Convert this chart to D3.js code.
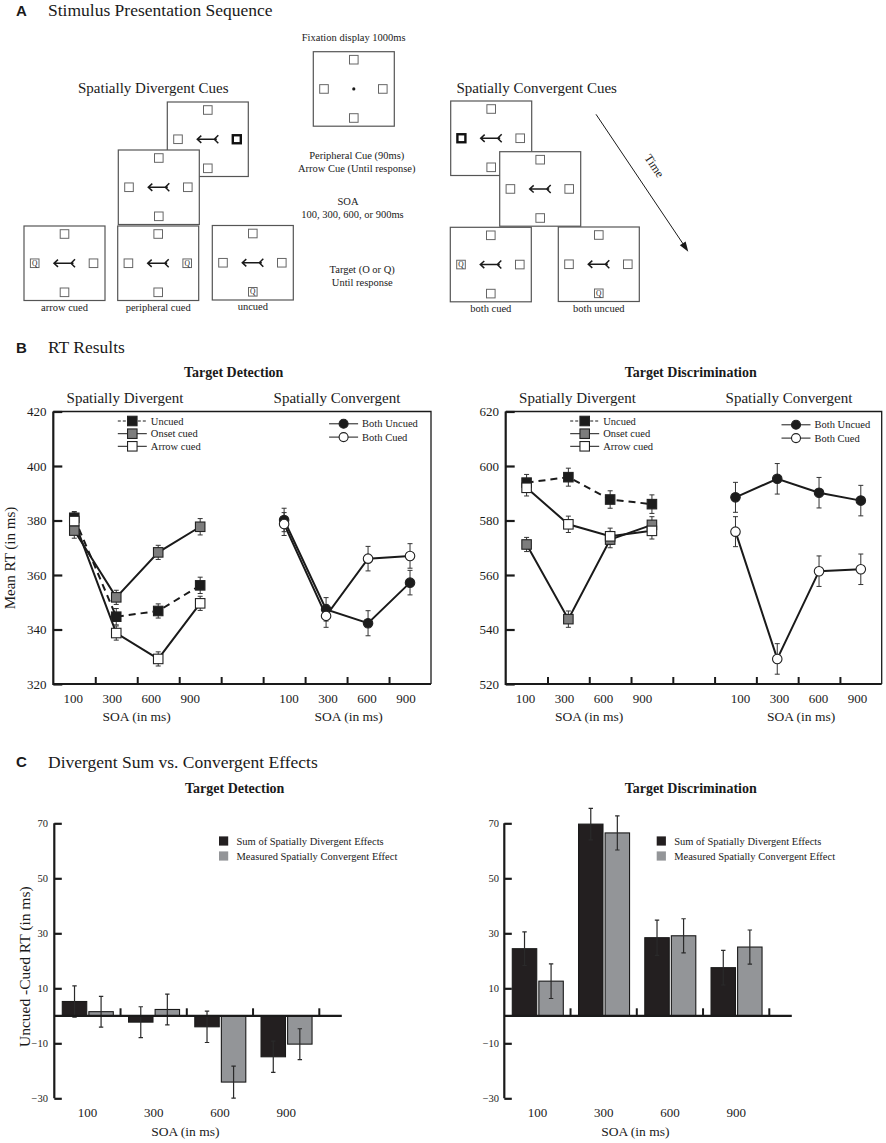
<!DOCTYPE html>
<html>
<head>
<meta charset="utf-8">
<script src="https://cdn.jsdelivr.net/npm/d3@7"></script>
<style>
  body { margin: 0; background: #fff; }
  text { font-family: 'Liberation Serif', 'Times New Roman', serif; fill: #1a1a1a; }
  .letter { font-family: 'Liberation Sans', Arial, sans-serif; font-weight: bold; }
</style>
</head>
<body>
<svg id="fig" width="886" height="1143"></svg>
<script>
// ---- data ----
var soaLabels = ["100", "300", "600", "900"];

// B, target detection: mean RT (ms) and error
var detUncued = [381.0, 344.7, 346.8, 356.2], detUncuedErr = [2.3, 3.0, 2.6, 3.0];
var detOnset = [376.3, 351.8, 368.3, 377.7], detOnsetErr = [2.8, 2.6, 2.6, 3.0];
var detArrow = [379.8, 338.7, 329.2, 349.6], detArrowErr = [3.0, 2.6, 2.6, 2.6];
var detBothUncued = [380.2, 347.4, 342.3, 357.2], detBothUncuedErr = [4.3, 4.3, 4.6, 4.5];
var detBothCued = [378.7, 345.0, 366.0, 367.0], detBothCuedErr = [4.2, 4.2, 4.5, 4.5];

// B, target discrimination
var disUncued = [593.9, 595.9, 587.7, 586.0], disUncuedErr = [3.0, 3.3, 3.2, 3.4];
var disOnset = [571.2, 543.8, 573.0, 578.4], disOnsetErr = [2.6, 3.0, 3.0, 3.0];
var disArrow = [592.0, 578.6, 574.2, 576.2], disArrowErr = [3.0, 3.0, 3.0, 3.0];
var disBothUncued = [588.5, 595.3, 590.2, 587.3], disBothUncuedErr = [5.5, 5.6, 5.6, 5.6];
var disBothCued = [575.9, 529.2, 561.4, 562.1], disBothCuedErr = [5.5, 5.6, 5.6, 5.6];

// C, uncued - cued RT (ms)
var detSum = [5.2, -2.3, -4.0, -14.9], detSumErr = [5.7, 5.6, 5.7, 5.7];
var detConv = [1.5, 2.3, -24.1, -10.3], detConvErr = [5.6, 5.6, 5.8, 5.6];
var disSum = [24.4, 69.7, 28.4, 17.5], disSumErr = [6.1, 5.7, 6.4, 6.3];
var disConv = [12.6, 66.5, 29.1, 25.0], disConvErr = [6.3, 6.2, 6.2, 6.2];

var rtTicks = [0, 20, 40, 60, 80, 100];
var effectTicks = [-30, -10, 10, 30, 50, 70];

var INK = "#1a1a1a";
var svg = d3.select("#fig");
svg.append("rect").attr("width", 886).attr("height", 1143).attr("fill", "#fff");

function label(g, x, y, txt, size, anchor, weight) {
    return g.append("text")
        .attr("x", x).attr("y", y)
        .attr("font-size", size)
        .attr("text-anchor", anchor || "start")
        .attr("font-weight", weight || "normal")
        .text(txt);
}

function panelHeading(letter, txt, y) {
    svg.append("text").attr("class", "letter")
        .attr("x", 16).attr("y", y).attr("font-size", 15).text(letter);
    label(svg, 48, y + 0.5, txt, 17.5);
}

// ---------------- A: stimulus sequence ----------------
var frameW = 81, frameH = 74.5;
var displays = [
    { x: 313.3, y: 51.7, center: "dot" },
    { x: 167.3, y: 102, center: "arrow", thick: "right" },
    { x: 118.3, y: 150, center: "arrow" },
    { x: 24, y: 226, center: "arrow", target: "left", name: "arrow cued" },
    { x: 117.7, y: 226, center: "arrow", target: "right", name: "peripheral cued" },
    { x: 212.3, y: 225.5, center: "arrow", target: "bottom", name: "uncued" },
    { x: 450.7, y: 101, center: "arrow", thick: "left" },
    { x: 499.7, y: 151.7, center: "arrow" },
    { x: 450.3, y: 227.3, center: "arrow", target: "left", name: "both cued" },
    { x: 558.3, y: 227, center: "arrow", target: "bottom", name: "both uncued" }
];
var placeholders = {
    top: [frameW / 2, 8], left: [10.7, frameH / 2],
    right: [frameW - 11.5, frameH / 2], bottom: [frameW / 2, frameH - 8.2]
};

function drawDisplay(d) {
    var g = svg.append("g").attr("transform", "translate(" + d.x + "," + d.y + ")");
    g.append("rect").attr("width", frameW).attr("height", frameH)
        .attr("fill", "#fff").attr("stroke", "#555").attr("stroke-width", 1.2);
    Object.keys(placeholders).forEach(function (k) {
        var p = placeholders[k], thick = d.thick === k;
        var s = thick ? 8 : 8.6;
        g.append("rect")
            .attr("x", p[0] - s / 2).attr("y", p[1] - s / 2)
            .attr("width", s).attr("height", s)
            .attr("fill", "#fff")
            .attr("stroke", thick ? "#111" : "#666")
            .attr("stroke-width", thick ? 2.4 : 1);
        if (d.target === k) {
            g.append("text").attr("x", p[0]).attr("y", p[1] + 2.6)
                .attr("font-size", 7.5).attr("text-anchor", "middle").text("Q");
        }
    });
    var cx = frameW / 2, cy = frameH / 2;
    if (d.center === "dot") {
        g.append("circle").attr("cx", cx).attr("cy", cy).attr("r", 1.6).attr("fill", INK);
    } else {
        var path = "M" + (cx - 10.5) + "," + cy + "H" + (cx + 9) +
            "M" + (cx - 6.5) + "," + (cy - 3.6) + "L" + (cx - 10.5) + "," + cy + "L" + (cx - 6.5) + "," + (cy + 3.6) +
            "M" + (cx + 10.5) + "," + (cy - 4) + "L" + (cx + 6.5) + "," + cy + "L" + (cx + 10.5) + "," + (cy + 4);
        g.append("path").attr("d", path).attr("fill", "none")
            .attr("stroke", INK).attr("stroke-width", 1.5);
    }
    if (d.name) {
        label(svg, d.x + frameW / 2, d.y + frameH + 10, d.name, 10.5, "middle");
    }
}

svg.append("text").attr("class", "letter").attr("x", 16).attr("y", 15.5).attr("font-size", 15).text("A");
label(svg, 48, 16, "Stimulus Presentation Sequence", 17.5);
label(svg, 353.7, 41, "Fixation display 1000ms", 10.5, "middle");
label(svg, 153.3, 92.5, "Spatially Divergent Cues", 15, "middle");
label(svg, 536.7, 92.5, "Spatially Convergent Cues", 15, "middle");
label(svg, 356.7, 158.7, "Peripheral Cue (90ms)", 10.5, "middle");
label(svg, 356.7, 172, "Arrow Cue (Until response)", 10.5, "middle");
label(svg, 348, 205, "SOA", 10.5, "middle");
label(svg, 352.5, 218, "100, 300, 600, or 900ms", 10.5, "middle");
label(svg, 362.2, 273, "Target (O or Q)", 10.5, "middle");
label(svg, 362.3, 286.4, "Until response", 10.5, "middle");
displays.forEach(drawDisplay);

// time arrow
var t0 = [596, 114.3], t1 = [688.3, 251.7];
svg.append("line").attr("x1", t0[0]).attr("y1", t0[1]).attr("x2", t1[0] - 3).attr("y2", t1[1] - 4.5)
    .attr("stroke", INK).attr("stroke-width", 1);
var ang = Math.atan2(t1[1] - t0[1], t1[0] - t0[0]) * 180 / Math.PI;
svg.append("path").attr("d", "M0,0L-10,-3.5L-10,3.5Z").attr("fill", INK)
    .attr("transform", "translate(" + t1[0] + "," + t1[1] + ") rotate(" + ang + ")");
svg.append("text").attr("font-size", 12).attr("text-anchor", "middle")
    .attr("transform", "translate(651,168) rotate(" + ang + ")").text("Time");

// ---------------- B: RT results ----------------
panelHeading("B", "RT Results", 352.5);

function drawMarker(g, shape, fill, x, y, size) {
    if (shape === "square") {
        g.append("rect").attr("x", x - size / 2).attr("y", y - size / 2)
            .attr("width", size).attr("height", size)
            .attr("fill", fill).attr("stroke", "#222").attr("stroke-width", 1.1);
    } else {
        g.append("circle").attr("cx", x).attr("cy", y).attr("r", size / 2)
            .attr("fill", fill).attr("stroke", "#222").attr("stroke-width", 1.1);
    }
}

function rtPanel(o) {
    var g = svg.append("g");
    var x = d3.scaleLinear().domain([0, 9]).range([o.x0, o.x1]);
    var y = d3.scaleLinear().domain([o.yMin, o.yMin + 100]).range([684, 411.5]);
    var yTop = y.range()[1], yBot = y.range()[0];

    // frame
    g.append("path").attr("d", "M" + o.x0 + "," + yTop + "H" + o.x1 + "V" + yBot)
        .attr("fill", "none").attr("stroke", INK).attr("stroke-width", 1.3);
    g.append("path").attr("d", "M" + o.x0 + "," + yTop + "V" + yBot + "H" + o.x1)
        .attr("fill", "none").attr("stroke", INK).attr("stroke-width", 2.2);

    // y axis, ticks inward
    var ya = d3.axisLeft(y).tickValues(rtTicks.map(function (t) { return o.yMin + t; }))
        .tickSize(-9).tickPadding(6.8).tickFormat(d3.format("d"));
    var yg = g.append("g").attr("transform", "translate(" + o.x0 + ",0)").call(ya);
    yg.select(".domain").remove();
    yg.selectAll("line").attr("stroke", INK).attr("stroke-width", 2.2);
    yg.selectAll("text").attr("font-size", 13).attr("font-family", "'Liberation Serif', serif").attr("fill", INK);

    // x ticks pointing up
    var xa = d3.axisBottom(x).tickValues(d3.range(1, 9)).tickSize(-7).tickFormat("");
    var xg = g.append("g").attr("transform", "translate(0," + yBot + ")").call(xa);
    xg.select(".domain").remove();
    xg.selectAll("line").attr("stroke", INK).attr("stroke-width", 2);

    // SOA labels under each group
    [0, 5].forEach(function (off, gi) {
        var shift = gi === 0 ? -1 : 5;
        soaLabels.forEach(function (s, i) {
            label(g, x(off + 0.5) + i * 39 + shift, 702.5, s, 13, "middle");
        });
        label(g, o.x0 + (gi === 0 ? 83.4 : 295.4), 720.8, "SOA (in ms)", 13.5, "middle");
    });

    label(g, (o.x0 + o.x1) / 2 - 28 + o.titleShift, 376.5, o.title, 14, "middle", "bold");
    label(g, o.x0 + o.divShift, 403, "Spatially Divergent", 15, "middle");
    label(g, o.x0 + o.convShift, 403, "Spatially Convergent", 15, "middle");

    var line = d3.line().x(function (d) { return d.x; }).y(function (d) { return d.y; });
    var series = o.series.map(function (s) {
        s.pts = s.vals.map(function (v, i) {
            return { x: x(i + s.offset + 0.5), y: y(v), hi: y(v + s.errs[i]), lo: y(v - s.errs[i]) };
        });
        return s;
    });
    series.forEach(function (s) {
        g.append("path").datum(s.pts).attr("d", line).attr("fill", "none")
            .attr("stroke", INK).attr("stroke-width", 2)
            .attr("stroke-dasharray", s.dash ? "7,5" : null);
    });
    series.forEach(function (s) {
        s.pts.forEach(function (p) {
            g.append("path")
                .attr("d", "M" + (p.x - 2.5) + "," + p.hi + "H" + (p.x + 2.5) + "M" + p.x + "," + p.hi +
                    "V" + p.lo + "M" + (p.x - 2.5) + "," + p.lo + "H" + (p.x + 2.5))
                .attr("stroke", "#333").attr("stroke-width", 1).attr("fill", "none");
        });
    });
    series.forEach(function (s) {
        s.pts.forEach(function (p) { drawMarker(g, s.shape, s.fill, p.x, p.y, 9.5); });
    });

    // legends
    function legend(items, lx, rowY) {
        items.forEach(function (s, i) {
            var ly = yTop + rowY[i];
            g.append("line").attr("x1", lx).attr("x2", lx + 29).attr("y1", ly).attr("y2", ly)
                .attr("stroke", INK).attr("stroke-width", 1)
                .attr("stroke-dasharray", s.dash ? "3,2" : null);
            drawMarker(g, s.shape, s.fill, lx + 14.5, ly, s.shape === "square" ? 9.5 : 9);
            label(g, lx + 33, ly + 3.6, s.name, 10.5);
        });
    }
    legend(series.filter(function (s) { return s.offset === 0; }), o.x0 + 64.5, [9.5, 22.2, 34.8]);
    legend(series.filter(function (s) { return s.offset === 5; }), o.x0 + 275.8, [12.3 + o.convLegendDy, 25.6 + o.convLegendDy]);
    return y;
}

function rtSeries(unc, uncE, ons, onsE, arr, arrE, bu, buE, bc, bcE) {
    return [
        { name: "Uncued", vals: unc, errs: uncE, shape: "square", fill: "#1c1c1c", dash: true, offset: 0 },
        { name: "Onset cued", vals: ons, errs: onsE, shape: "square", fill: "#7d7d7d", offset: 0 },
        { name: "Arrow cued", vals: arr, errs: arrE, shape: "square", fill: "#fff", offset: 0 },
        { name: "Both Uncued", vals: bu, errs: buE, shape: "circle", fill: "#1c1c1c", offset: 5 },
        { name: "Both Cued", vals: bc, errs: bcE, shape: "circle", fill: "#fff", offset: 5 }
    ];
}

rtPanel({
    x0: 53.3, x1: 431, yMin: 320, title: "Target Detection", titleShift: 19.5,
    divShift: 71.7, convShift: 283.7, convLegendDy: 0,
    series: rtSeries(detUncued, detUncuedErr, detOnset, detOnsetErr, detArrow, detArrowErr,
        detBothUncued, detBothUncuedErr, detBothCued, detBothCuedErr)
});
rtPanel({
    x0: 505.7, x1: 881.7, yMin: 520, title: "Target Discrimination", titleShift: 25,
    divShift: 71.8, convShift: 283.3, convLegendDy: 1,
    series: rtSeries(disUncued, disUncuedErr, disOnset, disOnsetErr, disArrow, disArrowErr,
        disBothUncued, disBothUncuedErr, disBothCued, disBothCuedErr)
});
svg.append("text").attr("font-size", 15).attr("text-anchor", "middle")
    .attr("transform", "translate(14.5,558) rotate(-90)").text("Mean RT (in ms)");

// ---------------- C: divergent sum vs convergent ----------------
panelHeading("C", "Divergent Sum vs. Convergent Effects", 767);

function effectPanel(o) {
    var g = svg.append("g");
    var y = d3.scaleLinear().domain([-30, 70]).range([1098.3, 823.3]);
    var x = d3.scaleBand().domain(soaLabels).range([o.x0, o.x0 + 265]).paddingInner(0).paddingOuter(0);
    var sub = d3.scaleBand().domain(["sum", "conv"]).range([8, 59]).paddingInner(0.08);
    var y0 = y(0);

    label(g, o.titleX, 793.3, o.title, 14, "middle", "bold");

    // y axis
    g.append("line").attr("x1", o.x0).attr("x2", o.x0).attr("y1", y(-30)).attr("y2", y(70))
        .attr("stroke", INK).attr("stroke-width", 2.2);
    var ya = d3.axisLeft(y).tickValues(effectTicks).tickSize(-7.5).tickPadding(o.tickPad).tickFormat(d3.format("d"));
    var yg = g.append("g").attr("transform", "translate(" + o.x0 + ",0)").call(ya);
    yg.select(".domain").remove();
    yg.selectAll("line").attr("stroke", INK).attr("stroke-width", 2.2);
    yg.selectAll("text").attr("font-size", 10.5).attr("font-family", "'Liberation Serif', serif").attr("fill", INK);

    // bars
    var groups = [
        { key: "sum", vals: o.sum, errs: o.sumErr, fill: "#231f20" },
        { key: "conv", vals: o.conv, errs: o.convErr, fill: "#939598" }
    ];
    groups.forEach(function (s) {
        g.selectAll(null).data(soaLabels).enter().append("rect")
            .attr("x", function (d) { return x(d) + sub(s.key); })
            .attr("width", sub.bandwidth())
            .attr("y", function (d, i) { return Math.min(y(s.vals[i]), y0); })
            .attr("height", function (d, i) { return Math.abs(y(s.vals[i]) - y0); })
            .attr("fill", s.fill).attr("stroke", "#1a1a1a").attr("stroke-width", 1.1);
    });
    groups.forEach(function (s) {
        soaLabels.forEach(function (d, i) {
            var cx = x(d) + sub(s.key) + sub.bandwidth() / 2;
            var hi = y(s.vals[i] + s.errs[i]), lo = y(s.vals[i] - s.errs[i]);
            g.append("path")
                .attr("d", "M" + (cx - 2.2) + "," + hi + "H" + (cx + 2.2) + "M" + cx + "," + hi +
                    "V" + lo + "M" + (cx - 2.2) + "," + lo + "H" + (cx + 2.2))
                .attr("stroke", "#2a2a2a").attr("stroke-width", 1.2).attr("fill", "none");
        });
    });

    // zero line with upward ticks at group boundaries
    g.append("line").attr("x1", o.x0).attr("x2", o.x0 + 287.5).attr("y1", y0).attr("y2", y0)
        .attr("stroke", INK).attr("stroke-width", 2.2);
    soaLabels.forEach(function (d) {
        var tx = x(d) + x.step();
        g.append("line").attr("x1", tx).attr("x2", tx).attr("y1", y0).attr("y2", y0 - 7.5)
            .attr("stroke", INK).attr("stroke-width", 2);
        label(g, x(d) + x.step() / 2, 1116.8, d, 13, "middle");
    });
    label(g, o.x0 + 131, 1136, "SOA (in ms)", 13.5, "middle");

    // legend
    [["Sum of Spatially Divergent Effects", groups[0].fill], ["Measured Spatially Convergent Effect", groups[1].fill]]
        .forEach(function (it, i) {
            var ly = 841 + i * 15;
            g.append("rect").attr("x", o.legendX).attr("y", ly - 4.6).attr("width", 9.2).attr("height", 9.2)
                .attr("fill", it[1]);
            label(g, o.legendX + 17.5, ly + 3.7, it[0], 10.5);
        });
}

effectPanel({ x0: 54.3, title: "Target Detection", titleX: 234.7, legendX: 219, tickPad: 6.3,
    sum: detSum, sumErr: detSumErr, conv: detConv, convErr: detConvErr });
effectPanel({ x0: 504.3, title: "Target Discrimination", titleX: 690.7, legendX: 656.7, tickPad: 5.2,
    sum: disSum, sumErr: disSumErr, conv: disConv, convErr: disConvErr });
svg.append("text").attr("font-size", 15.5).attr("text-anchor", "middle")
    .attr("transform", "translate(30,966.7) rotate(-90)").text("Uncued -Cued RT (in ms)");
</script>
</body>
</html>
